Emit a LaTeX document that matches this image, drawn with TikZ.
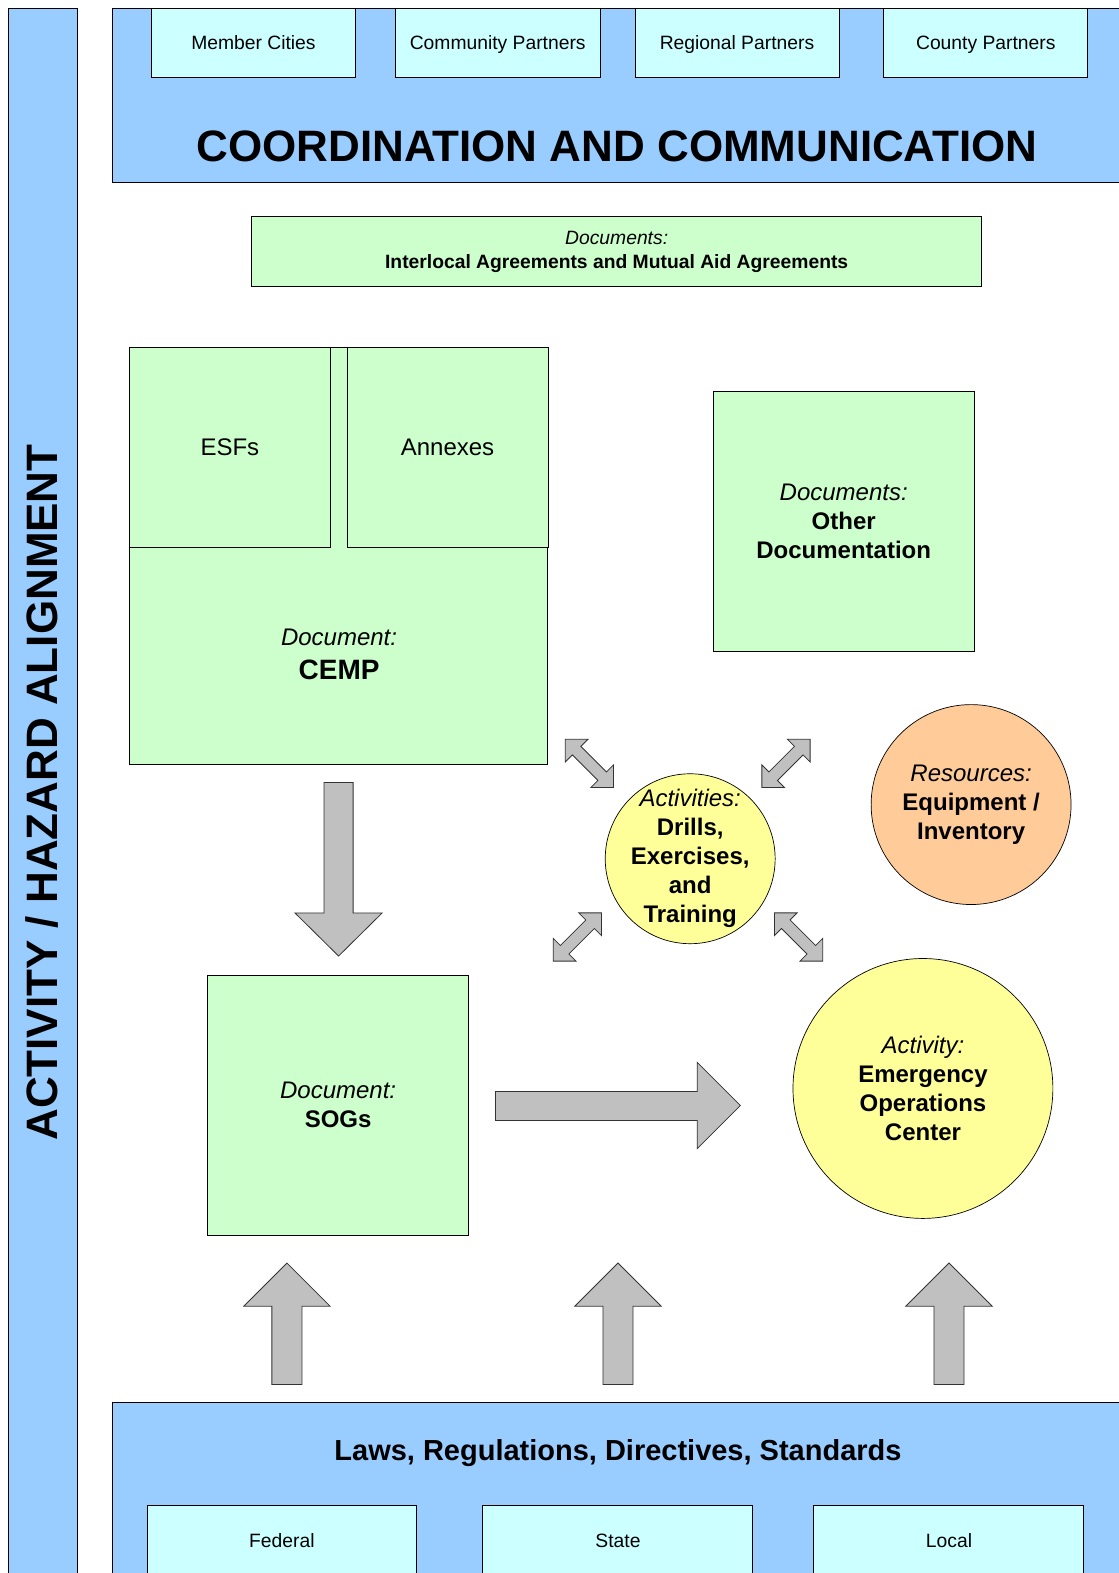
\documentclass[tikz,border=0pt]{standalone}
\usepackage{fontspec}
\setmainfont{Liberation Sans}
\definecolor{blueF}{HTML}{99CCFF}
\definecolor{cyanF}{HTML}{CCFFFF}
\definecolor{greenF}{HTML}{CCFFCC}
\definecolor{yellowF}{HTML}{FFFF99}
\definecolor{orangeF}{HTML}{FFCC99}
\definecolor{grayF}{HTML}{C0C0C0}
\newcommand\dblarrow[3]{%
  \begin{scope}[shift={(#1,#2)},rotate=#3]
    \draw[blk] (-34,0)--(-18,16)--(-18,6)--(18,6)--(18,16)--(34,0)--(18,-16)--(18,-6)--(-18,-6)--(-18,-16)--cycle;
  \end{scope}}
\newcommand\upblock[1]{%
  \draw[blk] (#1-15,1380)--(#1-15,1302)--(#1-43,1302)--(#1,1259)--(#1+43,1302)--(#1+15,1302)--(#1+15,1380)--cycle;}
\begin{document}
\begin{tikzpicture}[x=1.00359pt,y=-1.00359pt,
  every node/.style={inner sep=0pt, outer sep=0pt},
  box/.style={draw=black, line width=0.7pt, rectangle, anchor=north west},
  bluebox/.style={box, fill=blueF},
  partner/.style={box, fill=cyanF, font=\fontsize{19.3}{23}\selectfont, text height=14pt, text depth=0pt},
  docbox/.style={box, fill=greenF, align=center},
  circ/.style={circle, draw=black, line width=0.7pt, align=center, font=\fontsize{24}{29}\selectfont},
  blk/.style={draw=black!80, line width=0.8pt, fill=grayF, line join=miter},
  bigtitle/.style={font=\fontsize{44}{50}\selectfont\bfseries},
  lbl/.style={font=\fontsize{19.3}{23}\selectfont}]
\useasboundingbox (0,0) rectangle (1115,1568);

% left bar
\node[bluebox, minimum width=69pt, minimum height=1580pt] (leftbar) at (8,8) {};
\node[bigtitle, rotate=90] (aligntitle) at (42,790) {ACTIVITY / HAZARD ALIGNMENT};

% top coordination box
\node[bluebox, minimum width=1030pt, minimum height=174pt] (coord) at (112,8) {};
\node[bigtitle, anchor=base] (coordtitle) at (615,161) {COORDINATION AND COMMUNICATION};
\node[partner, minimum width=204pt, minimum height=69pt] (member) at (151,8) {Member Cities};
\node[partner, minimum width=205pt, minimum height=69pt] (community) at (394,8) {Community Partners};
\node[partner, minimum width=204pt, minimum height=69pt] (regional) at (633,8) {Regional Partners};
\node[partner, minimum width=204pt, minimum height=69pt] (county) at (881,8) {County Partners};

% interlocal documents
\node[docbox, minimum width=730pt, minimum height=70pt, font=\fontsize{19.3}{24}\selectfont] (interlocal) at (251,216)
  {\itshape Documents:\\\bfseries Interlocal Agreements and Mutual Aid Agreements};

% CEMP
\node[docbox, minimum width=418pt, minimum height=417pt] (cemp) at (129,346) {};
\node[docbox, minimum width=201pt, minimum height=200pt, font=\fontsize{24}{29}\selectfont] (esf) at (129,346) {ESFs};
\node[docbox, minimum width=201pt, minimum height=200pt, font=\fontsize{24}{29}\selectfont] (annex) at (346,346) {Annexes};
\node[anchor=base, font=\fontsize{24}{29}\selectfont\itshape] (cempdoc) at (338,643) {Document:};
\node[anchor=base, font=\fontsize{28}{32}\selectfont\bfseries] (cempname) at (338,677) {CEMP};

% other documentation
\node[docbox, minimum width=261pt, minimum height=260pt, font=\fontsize{24}{29}\selectfont] (other) at (711,390)
  {\itshape Documents:\\\bfseries Other\\\bfseries Documentation};

% SOGs
\node[docbox, minimum width=261pt, minimum height=260pt, font=\fontsize{24}{29}\selectfont] (sogs) at (207,972)
  {\itshape Document:\\\bfseries SOGs};

% circles
\node[circ, fill=yellowF, minimum size=170pt] (drills) at (688,856) {};
\node[align=center, font=\fontsize{24}{29}\selectfont] (drillstext) at (drills.center)
  {\itshape Activities:\\\bfseries Drills,\\\bfseries Exercises,\\\bfseries and\\\bfseries Training};
\node[circ, fill=orangeF, minimum size=200pt] (resources) at (968,802)
  {\itshape Resources:\\\bfseries Equipment /\\\bfseries Inventory};
\node[circ, fill=yellowF, minimum size=260pt] (eoc) at (920,1085)
  {\itshape Activity:\\\bfseries Emergency\\\bfseries Operations\\\bfseries Center};

% bottom laws box
\node[bluebox, minimum width=1030pt, minimum height=190pt] (laws) at (112,1398) {};
\node[font=\fontsize{29}{34}\selectfont\bfseries] (lawstitle) at (616,1448) {Laws, Regulations, Directives, Standards};
\node[box, fill=cyanF, minimum width=269pt, minimum height=90pt] (federal) at (147,1501) {};
\node[box, fill=cyanF, minimum width=270pt, minimum height=90pt] (state) at (481,1501) {};
\node[box, fill=cyanF, minimum width=270pt, minimum height=90pt] (local) at (811,1501) {};
\node[lbl] (federallbl) at (281,1536) {Federal};
\node[lbl] (statelbl) at (616,1536) {State};
\node[lbl] (locallbl) at (946,1536) {Local};

% block arrows
\draw[blk] (323,780)--(352,780)--(352,910)--(381,910)--(337.5,953)--(294,910)--(323,910)--cycle;
\draw[blk] (494,1088)--(695,1088)--(695,1059)--(738,1102)--(695,1145)--(695,1117)--(494,1117)--cycle;
\upblock{286}
\upblock{616}
\upblock{946}

% double arrows around drills
\dblarrow{587.5}{761}{-45}
\dblarrow{783.5}{761}{45}
\dblarrow{575.5}{934}{45}
\dblarrow{796}{934}{-45}
\end{tikzpicture}
\end{document}
